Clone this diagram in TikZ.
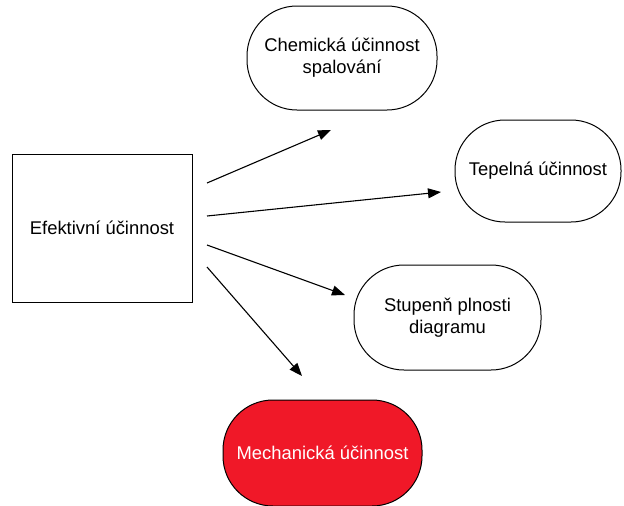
\documentclass[tikz,border=0pt]{standalone}
\usepackage{fontspec}
\setmainfont{Liberation Sans}
\usetikzlibrary{arrows.meta}
\definecolor{boxred}{RGB}{240,24,40}
\begin{document}
\begin{tikzpicture}[x=1pt,y=-1pt,
  every node/.style={font=\fontsize{18.4}{22}\selectfont, align=center, inner sep=0pt},
  sqbox/.style={draw, line width=1pt, minimum width=180pt, minimum height=148pt},
  pill/.style={draw, line width=1pt, rounded corners=50pt},
  arr/.style={line width=1.1pt, -{Triangle[length=13pt,width=10pt]}}]
\useasboundingbox (0,0) rectangle (624,506);
\node[sqbox] (eff) at (102,228) {Efektivní účinnost};
\node[pill, minimum width=190pt, minimum height=104pt] (chem) at (342,58) {Chemická účinnost\\spalování};
\node[pill, minimum width=166pt, minimum height=102pt] (tep) at (538,171) {Tepelná účinnost};
\node[pill, minimum width=187pt, minimum height=105pt] (stup) at (447.5,317.5) {Stupenň plnosti\\diagramu};
\node[pill, fill=boxred, text=white, minimum width=199pt, minimum height=106pt] (mech) at (322.5,453) {Mechanická účinnost};
\coordinate (s1) at (207,183);
\coordinate (e1) at (331,130);
\coordinate (s2) at (207,216);
\coordinate (e2) at (441,192);
\coordinate (s3) at (207,245);
\coordinate (e3) at (345,295);
\coordinate (s4) at (207,267);
\coordinate (e4) at (302,376);
\draw[arr] (s1) -- (e1);
\draw[arr] (s2) -- (e2);
\draw[arr] (s3) -- (e3);
\draw[arr] (s4) -- (e4);
\end{tikzpicture}
\end{document}
